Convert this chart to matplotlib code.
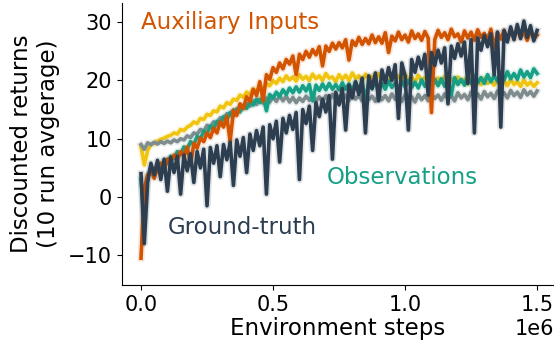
import numpy as np
import matplotlib
matplotlib.use("Agg")
import matplotlib.pyplot as plt

# Environment steps grid (every 12.5k steps, 0 .. 1.5e6)
steps = np.arange(121) * 12500

auxiliary = [
    -10.5, 1.5, 3.8, 4.5, 3.2, 5.0, 5.8, 4.6, 6.5, 6.0,
    7.2, 6.4, 7.8, 7.0, 8.6, 5.5, 9.2, 8.4, 10.1, 9.5,
    11.0, 10.2, 11.8, 11.0, 12.9, 12.0, 13.8, 9.5, 14.8, 14.0,
    16.0, 15.2, 17.2, 16.4, 18.5, 17.4, 19.8, 16.5, 21.0, 20.2,
    22.2, 21.4, 23.0, 22.0, 23.6, 22.8, 24.2, 21.0, 24.5, 23.6,
    25.0, 24.0, 25.3, 24.4, 25.8, 22.5, 25.9, 25.0, 26.4, 25.4,
    26.5, 25.6, 27.0, 23.5, 26.8, 26.0, 27.4, 26.2, 27.2, 26.3,
    27.8, 26.5, 27.5, 26.4, 28.2, 24.8, 27.6, 26.8, 28.3, 27.0,
    27.8, 26.6, 28.5, 27.2, 28.0, 26.9, 28.4, 27.3, 14.5, 27.0,
    28.6, 27.4, 28.2, 27.0, 28.8, 27.5, 28.0, 26.6, 28.5, 27.3,
    28.3, 26.9, 28.7, 27.4, 28.1, 27.0, 28.8, 25.5, 28.2, 27.1,
    28.6, 27.3, 28.4, 27.2, 28.9, 27.4, 28.3, 26.9, 28.5, 27.2,
    27.8,
]

yellow = [
    8.6, 5.5, 8.0, 9.0, 9.2, 9.6, 9.9, 10.1, 10.4, 10.6,
    11.0, 10.8, 11.6, 11.4, 12.0, 12.3, 12.9, 12.6, 13.5, 13.3,
    14.2, 14.0, 14.8, 14.6, 15.6, 15.3, 16.2, 15.9, 16.8, 16.6,
    17.5, 17.1, 18.0, 17.6, 18.5, 18.2, 19.0, 18.6, 19.5, 19.1,
    20.0, 19.5, 20.4, 19.8, 20.8, 20.1, 20.6, 19.9, 21.0, 20.2,
    20.7, 20.0, 21.1, 20.3, 20.8, 20.0, 21.2, 20.4, 20.6, 19.8,
    21.0, 20.2, 20.9, 20.0, 21.3, 20.4, 20.8, 19.9, 21.1, 20.3,
    20.7, 19.9, 21.2, 20.3, 20.6, 19.8, 21.0, 20.2, 20.8, 19.9,
    21.1, 20.1, 20.6, 19.7, 20.9, 20.0, 20.5, 19.6, 20.8, 19.9,
    20.4, 19.6, 20.7, 19.8, 20.3, 19.5, 20.6, 19.7, 20.2, 19.4,
    20.5, 19.6, 20.1, 19.3, 20.4, 19.5, 20.0, 19.2, 20.3, 19.4,
    19.9, 19.1, 20.2, 19.3, 19.8, 19.0, 20.1, 19.2, 19.7, 19.0,
    19.6,
]

gray = [
    9.0, 8.2, 9.3, 9.0, 9.4, 9.1, 9.5, 9.2, 9.6, 9.3,
    9.8, 9.5, 10.0, 9.8, 10.5, 10.2, 11.0, 10.8, 11.6, 11.3,
    12.3, 12.0, 12.9, 12.6, 13.6, 13.3, 14.3, 14.0, 15.0, 14.6,
    15.6, 15.2, 16.1, 15.6, 16.5, 15.9, 16.8, 16.1, 17.0, 16.3,
    17.2, 16.4, 17.4, 16.5, 17.3, 16.3, 17.1, 16.2, 17.0, 16.4,
    17.3, 16.6, 17.5, 16.5, 17.2, 16.3, 17.4, 16.6, 17.6, 16.7,
    17.3, 16.4, 17.5, 16.6, 17.7, 16.8, 17.4, 16.5, 17.6, 16.7,
    17.3, 16.4, 17.6, 16.7, 17.4, 16.5, 17.7, 16.8, 17.3, 16.4,
    17.5, 16.6, 17.2, 16.3, 17.6, 16.7, 17.4, 16.5, 17.8, 16.9,
    17.5, 16.6, 17.7, 16.8, 17.4, 16.5, 17.9, 17.0, 17.6, 16.7,
    18.0, 17.1, 17.7, 16.8, 18.1, 17.2, 17.8, 16.9, 18.2, 17.3,
    17.9, 17.0, 18.3, 17.4, 18.0, 17.1, 18.4, 17.5, 18.1, 17.3,
    18.2,
]

observations = [
    3.0, -4.0, 3.5, 4.8, 4.2, 5.5, 5.0, 6.2, 5.8, 7.0,
    6.6, 7.8, 7.3, 8.6, 8.2, 9.5, 9.0, 10.4, 10.0, 11.3,
    10.9, 12.2, 11.6, 13.0, 12.5, 13.8, 13.2, 14.5, 13.9, 15.1,
    14.6, 15.7, 15.2, 16.3, 15.8, 16.8, 16.2, 17.2, 14.8, 17.6,
    17.0, 18.0, 17.3, 18.4, 17.6, 18.7, 17.9, 18.9, 18.0, 19.1,
    18.2, 19.3, 16.5, 19.2, 18.3, 19.4, 18.4, 19.5, 18.5, 19.3,
    18.4, 19.6, 18.5, 19.4, 18.3, 19.7, 18.6, 19.5, 16.8, 19.6,
    18.6, 19.8, 18.7, 19.5, 18.5, 19.9, 18.8, 19.6, 18.6, 19.8,
    18.9, 20.0, 18.8, 19.7, 18.7, 20.1, 19.0, 19.8, 18.8, 20.2,
    19.1, 20.3, 19.0, 20.0, 17.5, 20.5, 19.3, 20.2, 19.2, 20.7,
    19.5, 20.8, 19.6, 20.5, 19.5, 21.0, 19.8, 20.8, 19.9, 21.3,
    20.1, 21.5, 20.3, 21.2, 20.2, 21.8, 20.6, 21.5, 20.5, 22.0,
    21.2,
]

ground_truth = [
    4.0, -8.0, 2.5, 5.8, 3.8, 6.3, 3.0, 6.5, 1.0, 6.8,
    4.2, 7.0, 0.5, 7.2, 4.5, 7.4, 2.5, 7.8, 5.0, 8.2,
    -1.5, 8.5, 5.8, 8.8, 3.5, 9.0, 6.4, 9.4, 2.0, 9.8,
    7.0, 10.2, 4.2, 10.8, 8.0, 11.4, 8.8, 12.0, 0.5, 12.4,
    10.0, 13.0, 6.0, 13.5, 11.0, 14.0, 11.6, 14.5, 3.0, 15.0,
    12.6, 15.6, 8.0, 16.2, 13.8, 16.8, 14.6, 17.4, 6.5, 18.0,
    15.8, 18.6, 11.5, 19.2, 17.0, 19.8, 17.6, 20.4, 11.0, 20.8,
    18.6, 21.3, 16.5, 21.8, 19.6, 22.2, 20.0, 22.7, 13.5, 23.0,
    20.8, 11.5, 23.6, 21.4, 24.0, 22.0, 24.5, 17.5, 24.8, 22.6,
    25.2, 23.0, 25.6, 16.0, 25.9, 23.8, 26.3, 24.2, 26.6, 19.5,
    27.0, 11.0, 27.3, 25.2, 27.7, 25.8, 28.0, 21.0, 28.3, 12.0,
    28.6, 26.6, 29.2, 27.0, 29.6, 27.2, 30.2, 27.4, 29.4, 26.8,
    28.6,
]

series = [
    (yellow, "#f1c40f"),
    (gray, "#7f8c8d"),
    (observations, "#16a085"),
    (auxiliary, "#d35400"),
    (ground_truth, "#2c3e50"),
]

fig = plt.figure(figsize=(5.54, 3.47), dpi=100)
ax = fig.add_axes([122 / 554, 1 - 285 / 347, (554 - 122) / 554, (285 - 3) / 347])

for vals, col in series:
    ax.plot(steps, vals, color=col, lw=5.0, alpha=0.15)
    ax.plot(steps, vals, color=col, lw=2.6)

ax.set_xlim(-0.072e6, 1.564e6)
ax.set_ylim(-15.1, 33.3)
ax.set_xticks([0, 0.5e6, 1.0e6, 1.5e6])
ax.set_yticks([-10, 0, 10, 20, 30])
ax.tick_params(labelsize=15)
ax.xaxis.get_offset_text().set_fontsize(15)
ax.spines["top"].set_visible(False)
ax.spines["right"].set_visible(False)

ax.set_xlabel("Environment steps", fontsize=16.5, labelpad=2)
ax.set_ylabel("Discounted returns\n(10 run avgerage)", fontsize=16.5, labelpad=6)

ax.text(0.0, 30.0, "Auxiliary Inputs", color="#d35400", fontsize=16.5, va="center", ha="left")
ax.text(0.705e6, 3.4, "Observations", color="#16a085", fontsize=16.5, va="center", ha="left")
ax.text(0.102e6, -5.3, "Ground-truth", color="#2c3e50", fontsize=16.5, va="center", ha="left")

fig.savefig("out.png", dpi=100)
